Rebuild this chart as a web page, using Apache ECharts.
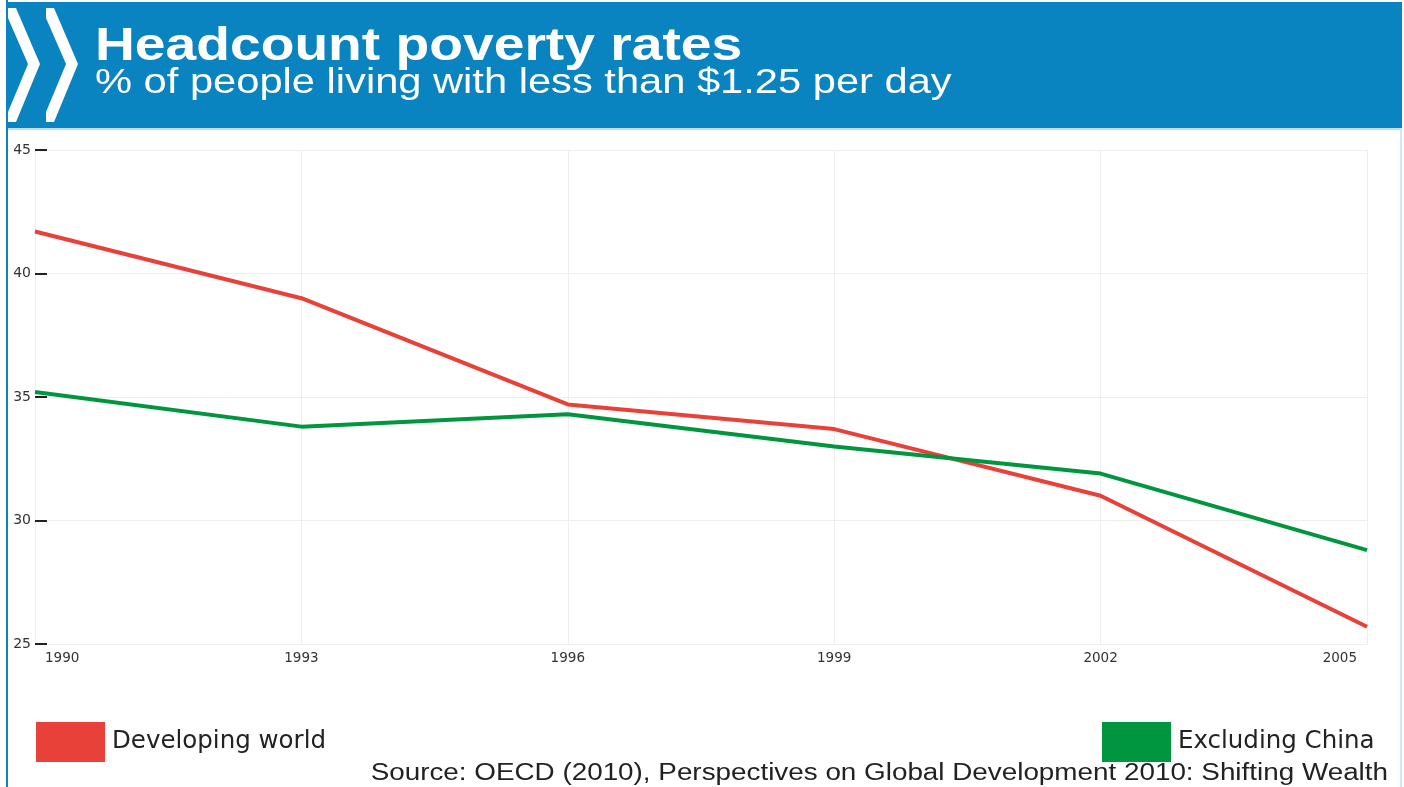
<!DOCTYPE html>
<html>
<head>
<meta charset="utf-8">
<title>Headcount poverty rates</title>
<script src="https://cdn.jsdelivr.net/npm/echarts@6/dist/echarts.min.js"></script>
<style>
  html, body { margin: 0; padding: 0; background: #fff; }
  #chart { width: 1404px; height: 787px; }
</style>
</head>
<body>
<div id="chart"></div>
<script>
// data
var years = ['1990', '1993', '1996', '1999', '2002', '2005'];
var developingWorld = [41.7, 39.0, 34.7, 33.7, 31.0, 25.7];
var excludingChina = [35.2, 33.8, 34.3, 33.0, 31.9, 28.8];
var yTicks = { min: 25, max: 45, step: 5 };

var FONT = '"Liberation Sans", Arial, Helvetica, sans-serif';
var WIDE = '"DejaVu Sans", "Liberation Sans", sans-serif';
var BLUE = '#0a84c1';
var RED = '#e8413a';
var GREEN = '#00963f';

var chart = echarts.init(document.getElementById('chart'));

// chevrons in the header (logo)
function chevron(x0) {
  return [[x0, 8], [x0 + 8, 8], [x0 + 32, 64], [x0 + 8, 122], [x0, 122], [x0, 112], [x0 + 20, 64], [x0, 18]];
}

function legendAt(left, name) {
  return {
    left: left, top: 722, padding: 0,
    itemWidth: 69, itemHeight: 40, itemGap: 10,
    icon: 'rect',
    data: [name],
    textStyle: { fontSize: 24.5, color: '#222', fontFamily: WIDE, padding: [3, 0, 0, 2] }
  };
}

var option = {
  animation: false,
  backgroundColor: '#fff',
  textStyle: { fontFamily: WIDE },
  grid: { left: 35, right: 37, top: 150, bottom: 143, containLabel: false },
  legend: [legendAt(36, 'Developing world'), legendAt(1102, 'Excluding China')],
  xAxis: {
    type: 'category',
    data: years,
    boundaryGap: false,
    axisLine: { show: true, lineStyle: { color: '#eeeeee' } },
    axisTick: { show: false },
    axisLabel: {
      color: '#333', fontSize: 13.5, margin: 7, fontFamily: WIDE,
      padding: [0, 10, 0, 10],
      alignMinLabel: 'left', alignMaxLabel: 'right'
    },
    splitLine: { show: true, lineStyle: { color: '#eeeeee', width: 1 } }
  },
  yAxis: {
    type: 'value',
    min: yTicks.min, max: yTicks.max, interval: yTicks.step,
    axisLine: { show: true, lineStyle: { color: '#eeeeee' } },
    axisTick: { show: true, inside: true, length: 12, lineStyle: { color: '#222', width: 2 } },
    axisLabel: { color: '#333', fontSize: 14, margin: 4, fontFamily: WIDE },
    splitLine: { show: true, lineStyle: { color: '#eeeeee', width: 1 } }
  },
  series: [{
    name: 'Developing world',
    type: 'line',
    data: developingWorld,
    symbol: 'none',
    lineStyle: { color: RED, width: 4 },
    itemStyle: { color: RED }
  }, {
    name: 'Excluding China',
    type: 'line',
    data: excludingChina,
    symbol: 'none',
    lineStyle: { color: GREEN, width: 4 },
    itemStyle: { color: GREEN }
  }],
  graphic: [
    // header band
    { type: 'rect', shape: { x: 7, y: 2, width: 1395, height: 126 }, style: { fill: BLUE }, z: 0 },
    { type: 'rect', shape: { x: 7, y: 128, width: 1395, height: 2 }, style: { fill: '#bfe0f1' }, z: 0 },
    // left & right frame lines
    { type: 'rect', shape: { x: 6, y: 0, width: 2, height: 787 }, style: { fill: BLUE }, z: 1 },
    { type: 'rect', shape: { x: 1400, y: 128, width: 2, height: 659 }, style: { fill: '#cfe6f3' }, z: 1 },
    { type: 'polygon', shape: { points: chevron(8) }, style: { fill: '#fff' }, z: 2 },
    { type: 'polygon', shape: { points: chevron(46) }, style: { fill: '#fff' }, z: 2 },
    // the original type is drawn wider than Arial, hence scaleX
    {
      type: 'text', x: 95, y: 24, scaleX: 1.2, z: 3,
      style: { text: 'Headcount poverty rates', fill: '#fff', font: 'bold 46px ' + FONT }
    },
    {
      type: 'text', x: 95, y: 66, scaleX: 1.19, z: 3,
      style: { text: '% of people living with less than $1.25 per day', fill: '#fff', font: '35px ' + FONT }
    },
    {
      type: 'text', x: 1388, y: 762, scaleX: 1.21, z: 3,
      style: { text: 'Source: OECD (2010), Perspectives on Global Development 2010: Shifting Wealth', fill: '#222', font: '23px ' + FONT, align: 'right' }
    }
  ]
};

chart.setOption(option);
</script>
</body>
</html>
